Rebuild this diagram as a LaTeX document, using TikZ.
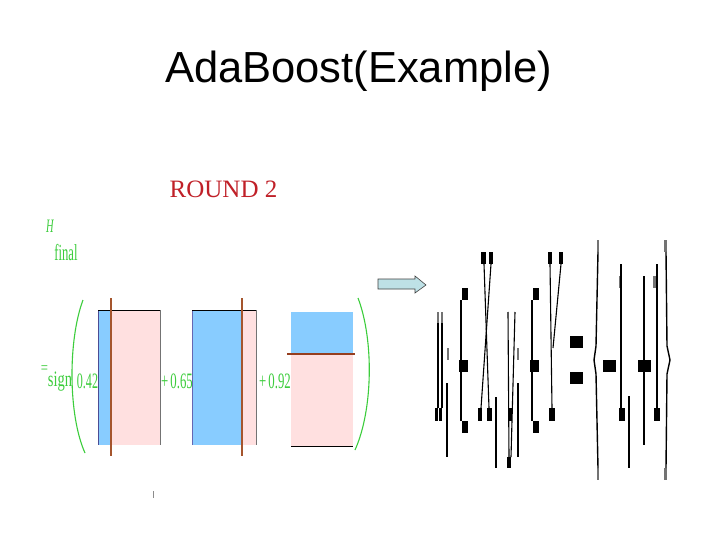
\documentclass[tikz,border=0pt]{standalone}
\usepackage{fontspec}
\setmainfont{Liberation Serif}
\newfontfamily\titlesans{Liberation Sans}
\definecolor{gtxt}{RGB}{60,205,60}
\definecolor{rred}{RGB}{192,32,40}
\definecolor{sky}{RGB}{136,204,255}
\definecolor{pinkish}{RGB}{255,224,224}
\definecolor{sienna}{RGB}{165,85,45}
\definecolor{siennadk}{RGB}{150,62,30}
\definecolor{arrowfill}{RGB}{190,225,230}
\tikzset{
  gtext/.style={text=gtxt, inner sep=0pt, anchor=base, font=\fontsize{22}{24}\selectfont},
  paren/.style={draw=gtxt, line width=1.1pt},
  cutline/.style={draw=sienna, line width=1.2pt},
  blk/.style={fill=black},
  gry/.style={fill=black!55},
  gl/.style={draw=black, line width=1.1pt},
}
\begin{document}
\begin{tikzpicture}[x=1pt,y=-1pt]
\useasboundingbox (0,0) rectangle (720,540);
\fill[white] (0,0) rectangle (720,540);
% title
\node[anchor=base, inner sep=0pt, font=\titlesans\fontsize{43.5}{50}\selectfont] (title) at (358.5,83) {AdaBoost(Example)};
\node[anchor=base west, inner sep=0pt, text=rred, font=\fontsize{25}{28}\selectfont] (round) at (169.5,197) {ROUND 2};
% formula labels
\node[gtext, font=\itshape\fontsize{19}{21}\selectfont, xscale=0.55] (H) at (50,233) {H};
\node[gtext, font=\fontsize{23}{25}\selectfont, xscale=0.55] (final) at (66,260) {final};
\node[gtext, font=\fontsize{17}{18}\selectfont, xscale=0.75] (eq) at (44.5,373) {=};
\node[gtext, xscale=0.66] (sign) at (60,386) {sign};
\node[gtext, xscale=0.55] (c1) at (87.5,388) {0.42};
\node[gtext, xscale=0.58] (c2) at (177,388) {+\,0.65};
\node[gtext, xscale=0.58] (c3) at (275,388) {+\,0.92};
% parentheses
\draw[paren] (83,300) .. controls (68,340) and (68,415) .. (85,453);
\draw[paren] (358,298) .. controls (374,340) and (373,410) .. (355,450);
% rectangle 1
\fill[sky] (98,310) rectangle (110,445);
\fill[pinkish] (110,310) rectangle (160,445);
\draw[black!60!blue!70, line width=0.6pt] (98,310) -- (98,445);
\draw[black!55, line width=0.6pt] (160,310) -- (160,445);
\draw[black, line width=0.8pt] (98,310) -- (160,310);
\draw[cutline] (111,298) -- (111,456);
% rectangle 2
\fill[sky] (192,310) rectangle (242,445);
\fill[pinkish] (242,310) rectangle (256,445);
\draw[black!50!blue!60, line width=0.6pt] (192,310) -- (192,445);
\draw[black!55, line width=0.6pt] (256,310) -- (256,445);
\draw[black, line width=0.8pt] (192,310) -- (256,310);
\draw[cutline] (242,298) -- (242,456);
% rectangle 3
\fill[sky] (291,312) rectangle (353,354);
\fill[pinkish] (291,354) rectangle (353,447);
\draw[black, line width=0.8pt] (291,446) -- (353,446);
\draw[draw=siennadk, line width=2.6pt] (287,354) -- (355,354);
% small tick
\draw[black!45, line width=0.6pt] (153,491) -- (153,498);
% arrow
\draw[fill=arrowfill, draw=black!75, line width=0.6pt]
  (378,279) -- (415,279) -- (415,276) -- (426,285) -- (415,293) -- (415,289) -- (378,289) -- cycle;
% garbled formula on the right
\foreach \a/\b/\c/\d in {481/252/486/264, 489/252/493/264, 548/252/552/264, 559/252/563/264,
  462/288/468/300, 533/288/539/300, 459/360/468/372, 530/360/539/372,
  435/408/438/421, 439/408/442/421, 478/408/482/421, 487/408/492/421,
  508/408/512/421, 549/408/555/421, 462/421/468/433, 533/421/539/433,
  507/457/511/468, 570/336/583/348, 570/372/583/384, 603/360/616/372,
  638/360/651/372, 619/408/625/421, 654/408/660/421}
  {\fill[blk] (\a,\b) rectangle (\c,\d);}
\foreach \a/\b/\c/\d in {437/312/439/323, 441/312/443/323, 447/348/449/360, 517/348/519/360,
  619/276/621/288, 653/276/656/288, 597/240/599/252, 597/468/599/480,
  664/240/667/252, 664/468/667/480}
  {\fill[gry] (\a,\b) rectangle (\c,\d);}
\draw[gl] (438,323) -- (438,408);
\draw[gl] (442,323) -- (442,408);
\draw[gl] (447,383) -- (447,457);
\draw[gl] (461,300) -- (461,421);
\draw[gl] (484,264) -- (489,408);
\draw[gl] (491,264) -- (481,408);
\draw[gl] (496,397) -- (496,468);
\draw[gl] (508,312) -- (509,457);
\draw[gl] (515,312) -- (511,457);
\draw[gl] (518,383) -- (518,457);
\draw[gl] (532,300) -- (532,421);
\draw[gl] (550,264) -- (552,408);
\draw[gl] (561,264) -- (553,348);
\draw[gl, line width=1.4pt] (598,252) -- (596,346) -- (594,360) -- (596,374) -- (598,468);
\draw[gl, line width=1.4pt] (666,252) -- (667,346) -- (670,360) -- (667,374) -- (666,468);
\draw[gl] (621,264) -- (621,408);
\draw[gl] (644,276) -- (644,445);
\draw[gl] (657,264) -- (657,408);
\draw[gl] (629,396) -- (629,468);
\end{tikzpicture}
\end{document}
